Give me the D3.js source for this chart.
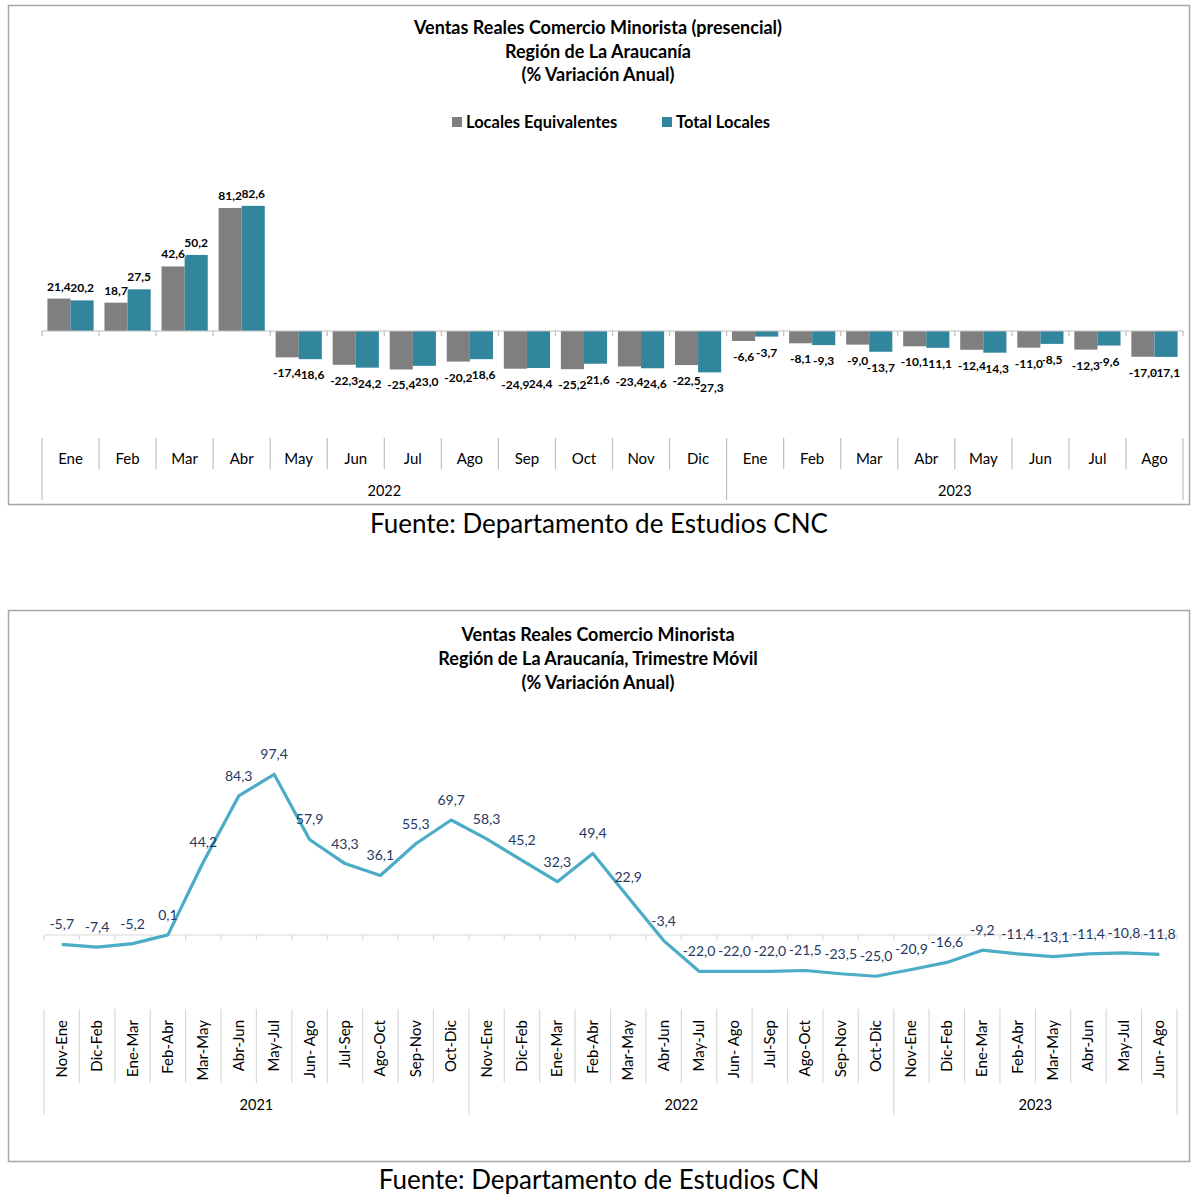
<!DOCTYPE html>
<html>
<head>
<meta charset="utf-8">
<script src="https://cdn.jsdelivr.net/npm/d3@7"></script>
<style>
  body { margin: 0; background: #fff; }
  svg text { font-family: Lato, "Open Sans", sans-serif; }
</style>
</head>
<body>
<script>
// ---- data: chart 1 (monthly, bars)
var barMonths = ["Ene","Feb","Mar","Abr","May","Jun","Jul","Ago","Sep","Oct","Nov","Dic",
                 "Ene","Feb","Mar","Abr","May","Jun","Jul","Ago"];
var barYears = ["2022", "2023"];
var barYearCounts = [12, 8];
var seriesNames = ["Locales Equivalentes", "Total Locales"];
var localesEquivalentes = [21.4, 18.7, 42.6, 81.2, -17.4, -22.3, -25.4, -20.2, -24.9, -25.2, -23.4, -22.5,
                           -6.6, -8.1, -9.0, -10.1, -12.4, -11.0, -12.3, -17.0];
var totalLocales = [20.2, 27.5, 50.2, 82.6, -18.6, -24.2, -23.0, -18.6, -24.4, -21.6, -24.6, -27.3,
                    -3.7, -9.3, -13.7, -11.1, -14.3, -8.5, -9.6, -17.1];

// ---- data: chart 2 (moving quarter, line)
var quarterLabels = ["Nov-Ene","Dic-Feb","Ene-Mar","Feb-Abr","Mar-May","Abr-Jun","May-Jul","Jun- Ago","Jul-Sep","Ago-Oct","Sep-Nov","Oct-Dic",
                     "Nov-Ene","Dic-Feb","Ene-Mar","Feb-Abr","Mar-May","Abr-Jun","May-Jul","Jun- Ago","Jul-Sep","Ago-Oct","Sep-Nov","Oct-Dic",
                     "Nov-Ene","Dic-Feb","Ene-Mar","Feb-Abr","Mar-May","Abr-Jun","May-Jul","Jun- Ago"];
var lineYears = ["2021", "2022", "2023"];
var lineYearCounts = [12, 12, 8];
var trimestreMovil = [-5.7, -7.4, -5.2, 0.1, 44.2, 84.3, 97.4, 57.9, 43.3, 36.1, 55.3, 69.7,
                      58.3, 45.2, 32.3, 49.4, 22.9, -3.4, -22.0, -22.0, -22.0, -21.5, -23.5, -25.0,
                      -20.9, -16.6, -9.2, -11.4, -13.1, -11.4, -10.8, -11.8];

// excel style: comma decimal, plain hyphen for minus
var fmt = function(v) { return d3.format(".1f")(v).replace(".", ",").replace("\u2212", "-"); };
var grey = "#7f7f7f", teal = "#31859c", lineBlue = "#4bacc6", labelBlue = "#1f3864";

var svg = d3.select("body").append("svg")
    .attr("width", 1200)
    .attr("height", 1198);

// ****************** chart 1 ******************
var c1 = svg.append("g");

c1.append("rect")
    .attr("x", 8.5).attr("y", 5.5).attr("width", 1181).attr("height", 499)
    .attr("fill", "none").attr("stroke", "#a6a6a6").attr("stroke-width", 1.5);

["Ventas Reales Comercio Minorista (presencial)", "Región de La Araucanía", "(% Variación Anual)"]
  .forEach(function(t, i) {
    c1.append("text")
      .attr("x", 598).attr("y", 34 + i * 23.5)
      .attr("text-anchor", "middle")
      .attr("font-size", 18).attr("font-weight", "bold")
      .text(t);
  });

// legend
var legend = c1.append("g");
[{x: 452, c: grey}, {x: 662, c: teal}].forEach(function(d, i) {
  legend.append("rect").attr("x", d.x).attr("y", 117).attr("width", 10).attr("height", 10).attr("fill", d.c);
  legend.append("text").attr("x", d.x + 14).attr("y", 128)
    .attr("font-size", 16.5).attr("font-weight", "bold").text(seriesNames[i]);
});

var idx1 = d3.range(barMonths.length);
var x0 = d3.scaleBand().domain(idx1).range([42, 1183]).paddingInner(0.19).paddingOuter(0.095);
var x1 = d3.scaleBand().domain([0, 1]).range([0, x0.bandwidth()]);
var zero1 = 331, k1 = 1.515;
var y1 = d3.scaleLinear().domain([-40, 100]).range([zero1 + 40 * k1, zero1 - 100 * k1]);
var step1 = x0.step();
var edge1 = function(i) { return 42 + i * step1; };

var bars = [localesEquivalentes, totalLocales];
var colors = [grey, teal];

bars.forEach(function(vals, s) {
  c1.append("g").selectAll("rect")
    .data(vals)
    .enter().append("rect")
      .attr("x", function(d, i) { return x0(i) + x1(s); })
      .attr("width", x1.bandwidth())
      .attr("y", function(d) { return y1(Math.max(0, d)); })
      .attr("height", function(d) { return Math.abs(y1(d) - y1(0)); })
      .attr("fill", colors[s]);
});

// zero line with ticks
c1.append("line").attr("x1", 42).attr("x2", 1183).attr("y1", zero1).attr("y2", zero1)
  .attr("stroke", "#bfbfbf").attr("stroke-width", 1.2);
c1.append("g").selectAll("line").data(d3.range(barMonths.length + 1)).enter().append("line")
  .attr("x1", edge1).attr("x2", edge1)
  .attr("y1", zero1).attr("y2", zero1 + 5)
  .attr("stroke", "#bfbfbf").attr("stroke-width", 1.2);

// data labels (teal first, grey on top with thin white halo, like excel overlap)
[1, 0].forEach(function(s) {
  c1.append("g").selectAll("text")
    .data(bars[s])
    .enter().append("text")
      .attr("x", function(d, i) { return x0(i) + x1(s) + x1.bandwidth() / 2; })
      .attr("y", function(d) { return d >= 0 ? y1(d) - 8 : y1(d) + 20; })
      .attr("text-anchor", "middle")
      .attr("font-size", 12).attr("font-weight", "bold")
      .attr("fill", "#000")
      .attr("stroke", s === 0 ? "#fff" : "none").attr("stroke-width", 2)
      .attr("paint-order", "stroke")
      .text(fmt);
});

// category axis
var cat1 = c1.append("g");
cat1.selectAll("text.m").data(barMonths).enter().append("text")
  .attr("class", "m")
  .attr("x", function(d, i) { return x0(i) + x0.bandwidth() / 2; })
  .attr("y", 464)
  .attr("text-anchor", "middle").attr("font-size", 15)
  .text(function(d) { return d; });

var yearEdges1 = [0];
barYearCounts.forEach(function(c) { yearEdges1.push(yearEdges1[yearEdges1.length - 1] + c); });
cat1.selectAll("line").data(d3.range(barMonths.length + 1)).enter().append("line")
  .attr("x1", edge1).attr("x2", edge1)
  .attr("y1", 438)
  .attr("y2", function(i) { return yearEdges1.indexOf(i) >= 0 ? 500 : 469; })
  .attr("stroke", "#bfbfbf").attr("stroke-width", 1.2);
barYears.forEach(function(yv, j) {
  cat1.append("text")
    .attr("x", (edge1(yearEdges1[j]) + edge1(yearEdges1[j + 1])) / 2)
    .attr("y", 496)
    .attr("text-anchor", "middle").attr("font-size", 14.5)
    .text(yv);
});

svg.append("text").attr("x", 599).attr("y", 533).attr("text-anchor", "middle")
  .attr("font-size", 26).text("Fuente: Departamento de Estudios CNC");

// ****************** chart 2 ******************
var c2 = svg.append("g");

c2.append("rect")
    .attr("x", 8.5).attr("y", 610.5).attr("width", 1181).attr("height", 551)
    .attr("fill", "none").attr("stroke", "#a6a6a6").attr("stroke-width", 1.5);

["Ventas Reales Comercio Minorista", "Región de La Araucanía, Trimestre Móvil", "(% Variación Anual)"]
  .forEach(function(t, i) {
    c2.append("text")
      .attr("x", 598).attr("y", 641 + i * 24)
      .attr("text-anchor", "middle")
      .attr("font-size", 18).attr("font-weight", "bold")
      .text(t);
  });

var idx2 = d3.range(quarterLabels.length);
var x2 = d3.scalePoint().domain(idx2).range([44, 1177]).padding(0.5);
var step2 = x2.step();
var edge2 = function(i) { return 44 + i * step2; };
var zero2 = 935, k2 = 1.65;
var y2 = d3.scaleLinear().domain([-40, 110]).range([zero2 + 40 * k2, zero2 - 110 * k2]);

c2.append("line").attr("x1", 44).attr("x2", 1177).attr("y1", zero2).attr("y2", zero2)
  .attr("stroke", "#d9d9d9").attr("stroke-width", 1.2);
c2.append("g").selectAll("line").data(d3.range(quarterLabels.length + 1)).enter().append("line")
  .attr("x1", edge2).attr("x2", edge2)
  .attr("y1", zero2).attr("y2", zero2 + 5)
  .attr("stroke", "#d9d9d9").attr("stroke-width", 1.2);

var line = d3.line()
  .x(function(d, i) { return x2(i); })
  .y(function(d) { return y2(d); });

c2.append("path")
  .datum(trimestreMovil)
  .attr("d", line)
  .attr("fill", "none")
  .attr("stroke", lineBlue)
  .attr("stroke-width", 3.2)
  .attr("stroke-linejoin", "round");

c2.append("g").selectAll("text")
  .data(trimestreMovil)
  .enter().append("text")
    .attr("x", function(d, i) { return x2(i); })
    .attr("y", function(d) { return y2(d) - 15; })
    .attr("text-anchor", "middle")
    .attr("font-size", 14)
    .attr("fill", labelBlue)
    .text(fmt);

// category axis
var cat2 = c2.append("g");
cat2.selectAll("text.q").data(quarterLabels).enter().append("text")
  .attr("class", "q")
  .attr("transform", function(d, i) { return "translate(" + (x2(i) + 5) + ",1020) rotate(-90)"; })
  .attr("text-anchor", "end").attr("font-size", 15)
  .text(function(d) { return d; });

var yearEdges2 = [0];
lineYearCounts.forEach(function(c) { yearEdges2.push(yearEdges2[yearEdges2.length - 1] + c); });
cat2.selectAll("line").data(d3.range(quarterLabels.length + 1)).enter().append("line")
  .attr("x1", edge2).attr("x2", edge2)
  .attr("y1", 1009)
  .attr("y2", function(i) { return yearEdges2.indexOf(i) >= 0 ? 1115 : 1083; })
  .attr("stroke", "#d9d9d9").attr("stroke-width", 1.2);
lineYears.forEach(function(yv, j) {
  cat2.append("text")
    .attr("x", (edge2(yearEdges2[j]) + edge2(yearEdges2[j + 1])) / 2)
    .attr("y", 1110)
    .attr("text-anchor", "middle").attr("font-size", 14.5)
    .text(yv);
});

svg.append("text").attr("x", 599).attr("y", 1189).attr("text-anchor", "middle")
  .attr("font-size", 26).text("Fuente: Departamento de Estudios CN");
</script>
</body>
</html>
